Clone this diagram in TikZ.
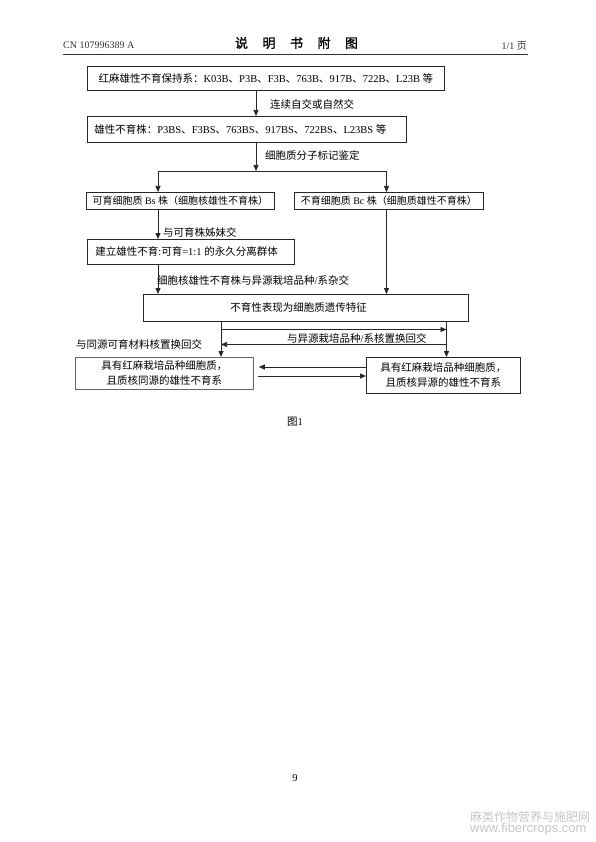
\documentclass[tikz,border=0pt]{standalone}
\usepackage{fontspec}
\setmainfont{Liberation Serif}
\newfontfamily\lat{Liberation Serif}
\newfontfamily\cjk{Noto Sans CJK SC}
\newfontfamily\cjkb[FakeBold=1.2]{Noto Sans CJK SC}
\newfontfamily\wmsans{Liberation Sans}
\usetikzlibrary{arrows.meta}
% automatic switching between Latin and CJK fonts
\XeTeXinterchartokenstate=1
\newXeTeXintercharclass\cjkcls
\newcount\mycnt
\def\setcls#1#2{\mycnt=#1\relax\loop\XeTeXcharclass\mycnt=\cjkcls\ifnum\mycnt<#2\advance\mycnt by 1\repeat}
\setcls{"3000}{"303F}
\setcls{"4E00}{"9FFF}
\setcls{"FF00}{"FFEF}
\XeTeXinterchartoks 0 \cjkcls = {\cjk}
\XeTeXinterchartoks 4095 \cjkcls = {\cjk}
\XeTeXinterchartoks \cjkcls 0 = {\lat}
\XeTeXinterchartoks \cjkcls 4095 = {\lat}
\newcommand\fs{\fontsize{10.5}{15}\selectfont}
\tikzset{
  boxn/.style={draw=black!85, line width=0.75pt, rectangle, inner sep=0pt, anchor=north west, font=\fs, align=center},
  conn/.style={line width=0.75pt, draw=black!85},
  arr/.style={conn, -{Triangle[length=6pt,width=5pt]}},
  lab/.style={font=\fs, inner sep=0pt, anchor=west},
}
\begin{document}
\begin{tikzpicture}[x=1pt,y=-1pt]
\path[use as bounding box, fill=white] (0,0) rectangle (595,842);
% header
\node[anchor=west, font=\fontsize{10}{11}\selectfont, text=black!80, inner sep=0pt] (hdl) at (63,45.5) {CN 107996389 A};
\node[font=\fontsize{13}{15}\selectfont, inner sep=0pt] (hdc) at (296.5,43) {\XeTeXinterchartokenstate=0 \cjkb 说\hspace{14.5pt}明\hspace{14.5pt}书\hspace{14.5pt}附\hspace{14.5pt}图};
\node[anchor=east, font=\fontsize{10}{12}\selectfont, text=black!80, inner sep=0pt] (hdr) at (527,45.5) {1/1 页};
\coordinate (hl1) at (63,54.5);
\coordinate (hl2) at (528,54.5);
\draw[line width=1.3pt, black!80] (hl1) -- (hl2);
% boxes
\node[boxn, minimum width=357pt, minimum height=24pt] (b1) at (87,66) {红麻雄性不育保持系：K03B、P3B、F3B、763B、917B、722B、L23B 等};
\node[boxn, minimum width=319pt, minimum height=26.5pt] (b2) at (87,116) {\makebox[319pt][l]{\hspace*{7pt}雄性不育株：P3BS、F3BS、763BS、917BS、722BS、L23BS 等}};
\node[boxn, font=\fontsize{10}{12}\selectfont, minimum width=188pt, minimum height=17.5pt] (b3l) at (86,192) {可育细胞质 Bs 株（细胞核雄性不育株）};
\node[boxn, font=\fontsize{10}{12}\selectfont, minimum width=189pt, minimum height=17pt] (b3r) at (294,192) {不育细胞质 Bc 株（细胞质雄性不育株）};
\node[boxn, minimum width=207pt, minimum height=25pt] (b4) at (87,239) {\makebox[207pt][l]{\hspace*{8pt}建立雄性不育:可育=1:1 的永久分离群体}};
\node[boxn, minimum width=325.5pt, minimum height=27pt] (b5) at (142.5,294) {\makebox[325.5pt][l]{\hspace*{87.5pt}不育性表现为细胞质遗传特征}};
\node[boxn, draw=black!60, minimum width=178pt, minimum height=32pt] (b6l) at (75,357) {具有红麻栽培品种细胞质，\\且质核同源的雄性不育系};
\node[boxn, minimum width=154pt, minimum height=36pt] (b6r) at (366,357) {具有红麻栽培品种细胞质，\\且质核异源的雄性不育系};
% helper coordinates
\coordinate (xa) at (256,0);
\coordinate (xl) at (158,0);
\coordinate (xr) at (386.5,0);
\coordinate (x5l) at (221,0);
\coordinate (x5r) at (446.5,0);
\coordinate (hL) at (158,171);
\coordinate (hR) at (386.5,171);
\coordinate (hM) at (256,171);
\coordinate (y1) at (0,329.5);
\coordinate (y2) at (0,344.5);
\coordinate (y3) at (0,367);
\coordinate (y4) at (0,376);
% connectors
\draw[arr] (b1.south -| xa) -- (b2.north -| xa);
\draw[arr] (b2.south -| xa) -- (hM);
\draw[conn] (hL) -- (hR);
\draw[arr] (hL) -- (b3l.north -| hL);
\draw[arr] (hR) -- (b3r.north -| hR);
\draw[arr] (b3l.south -| xl) -- (b4.north -| xl);
\draw[arr] (b4.south -| xl) -- (b5.north -| xl);
\draw[arr] (b3r.south -| xr) -- (b5.north -| xr);
\draw[arr] (b5.south -| x5l) -- (b6l.north -| x5l);
\draw[arr] (b5.south -| x5r) -- (b6r.north -| x5r);
\draw[arr] (x5l |- y1) -- (x5r |- y1);
\draw[arr] (x5r |- y2) -- (x5l |- y2);
\draw[arr, shorten >=5pt] (b6r.west |- y3) -- (b6l.east |- y3);
\draw[arr, shorten <=4pt] (b6l.east |- y4) -- (b6r.west |- y4);
% labels
\node[lab] (l1) at (270,104) {连续自交或自然交};
\node[lab] (l2) at (265,155) {细胞质分子标记鉴定};
\node[lab] (l3) at (163,232.5) {与可育株姊妹交};
\node[lab] (l4) at (157,280) {细胞核雄性不育株与异源栽培品种/系杂交};
\node[lab] (l5) at (287,338.5) {与异源栽培品种/系核置换回交};
\node[lab] (l6) at (76,344) {与同源可育材料核置换回交};
% caption, page number, watermark
\node[font=\fs, inner sep=0pt] (fig) at (295,422) {图1};
\node[font=\fs, inner sep=0pt] (pg) at (295,778) {9};
\node[anchor=west, text=black!22, font=\fontsize{12}{12}\selectfont, inner sep=0pt] (wm1) at (470,817) {麻类作物营养与施肥网};
\node[anchor=west, text=black!22, font=\wmsans\fontsize{13}{13}\selectfont, inner sep=0pt] (wm2) at (470,829) {www.fibercrops.com};
\end{tikzpicture}
\end{document}
